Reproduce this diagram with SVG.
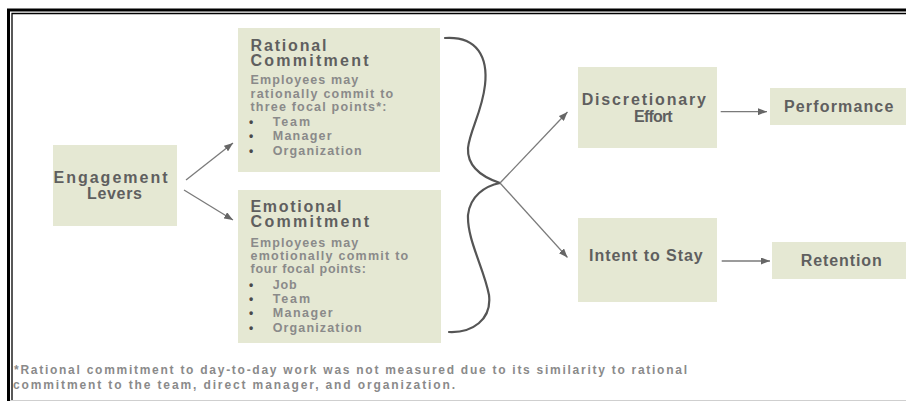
<svg xmlns="http://www.w3.org/2000/svg" width="906" height="401" viewBox="0 0 906 401">
<defs>
<style>
.box{fill:#e5e8d3}
.t{font-family:"Liberation Sans",Arial,sans-serif;font-weight:bold;font-size:16px;fill:#5f5f5f}
.b{font-family:"Liberation Sans",Arial,sans-serif;font-weight:bold;font-size:12.5px;fill:#8a8a8a}
.dot{font-family:"Liberation Sans",Arial,sans-serif;font-weight:bold;font-size:12px;fill:#4a4a4a}
.fn{font-family:"Liberation Sans",Arial,sans-serif;font-weight:bold;font-size:12px;fill:#8a8a8a}
.ar{fill:none;stroke:#7a7a7a;stroke-width:1.3}
.br{fill:none;stroke:#555;stroke-width:2.2;stroke-linecap:round}
</style>
<marker id="ah" markerUnits="userSpaceOnUse" markerWidth="9" markerHeight="7" refX="9" refY="3.5" orient="auto">
<path d="M0,0 L9,3.5 L0,7 z" fill="#666"/>
</marker>
</defs>
<rect width="906" height="401" fill="#fff"/>
<g id="frame" fill="none" stroke="#000">
<path d="M906,10 H8.5 V401" stroke-width="3"/>
<path d="M906,13.5 H12 V401" stroke-width="1.3"/>
<path d="M10,400.5 H906" stroke="#cfcfcf" stroke-width="1"/>
</g>
<g id="engagement">
<rect class="box" x="53" y="145" width="124" height="81"/>
<text class="t" x="53.5" y="182.7" textLength="114" lengthAdjust="spacing">Engagement</text>
<text class="t" x="87" y="198.5" textLength="55" lengthAdjust="spacing">Levers</text>
</g>
<g id="rational">
<rect class="box" x="238" y="28" width="202" height="144"/>
<text class="t" x="250.5" y="51" textLength="76" lengthAdjust="spacing">Rational</text>
<text class="t" x="250.5" y="66" textLength="118" lengthAdjust="spacing">Commitment</text>
<text class="b" x="250.5" y="84" textLength="107.7" lengthAdjust="spacing">Employees may</text>
<text class="b" x="250.5" y="97.5" textLength="142.7" lengthAdjust="spacing">rationally commit to</text>
<text class="b" x="250.5" y="111" textLength="136" lengthAdjust="spacing">three focal points*:</text>
<text class="dot" x="249" y="126">•</text>
<text class="b" x="272.7" y="126" textLength="37.3" lengthAdjust="spacing">Team</text>
<text class="dot" x="249" y="140">•</text>
<text class="b" x="272.7" y="140" textLength="59" lengthAdjust="spacing">Manager</text>
<text class="dot" x="249" y="154.5">•</text>
<text class="b" x="272.7" y="154.5" textLength="89" lengthAdjust="spacing">Organization</text>
</g>
<g id="emotional">
<rect class="box" x="238" y="190" width="203" height="153"/>
<text class="t" x="250.5" y="212.3" textLength="91" lengthAdjust="spacing">Emotional</text>
<text class="t" x="250.5" y="227.3" textLength="118.7" lengthAdjust="spacing">Commitment</text>
<text class="b" x="250.5" y="246.7" textLength="107.7" lengthAdjust="spacing">Employees may</text>
<text class="b" x="250.5" y="260" textLength="157.7" lengthAdjust="spacing">emotionally commit to</text>
<text class="b" x="250.5" y="273.3" textLength="115.3" lengthAdjust="spacing">four focal points:</text>
<text class="dot" x="249" y="289">•</text>
<text class="b" x="272.7" y="289" textLength="24" lengthAdjust="spacing">Job</text>
<text class="dot" x="249" y="302.7">•</text>
<text class="b" x="272.7" y="302.7" textLength="37.3" lengthAdjust="spacing">Team</text>
<text class="dot" x="249" y="317.3">•</text>
<text class="b" x="272.7" y="317.3" textLength="60" lengthAdjust="spacing">Manager</text>
<text class="dot" x="249" y="331.7">•</text>
<text class="b" x="272.7" y="331.7" textLength="89" lengthAdjust="spacing">Organization</text>
</g>
<g id="discretionary">
<rect class="box" x="578" y="67" width="139" height="81"/>
<text class="t" x="581.7" y="105" textLength="124.3" lengthAdjust="spacing">Discretionary</text>
<text class="t" x="634" y="121.7" textLength="38.7" lengthAdjust="spacing">Effort</text>
</g>
<g id="performance">
<rect class="box" x="770" y="88" width="136" height="37"/>
<text class="t" x="784" y="112" textLength="109.3" lengthAdjust="spacing">Performance</text>
</g>
<g id="intent">
<rect class="box" x="578" y="218" width="139" height="84"/>
<text class="t" x="589" y="261.3" textLength="113.7" lengthAdjust="spacing">Intent to Stay</text>
</g>
<g id="retention">
<rect class="box" x="772" y="242" width="134" height="37"/>
<text class="t" x="800.7" y="266" textLength="81" lengthAdjust="spacing">Retention</text>
</g>
<g id="connectors">
<line class="ar" x1="186" y1="180" x2="233" y2="143" marker-end="url(#ah)"/>
<line class="ar" x1="184" y1="190" x2="233" y2="220" marker-end="url(#ah)"/>
<path class="br" d="M445,38 C478,36 488,58 485,85 C482,112 470,130 468,148 C467,168 485,178 500,183"/>
<path class="br" d="M500,183 C485,186 470,196 468,215 C467,240 484,268 489,295 C492,320 472,333 449,332"/>
<line class="ar" x1="500" y1="183" x2="567.5" y2="112" marker-end="url(#ah)"/>
<line class="ar" x1="500" y1="183" x2="567.5" y2="257.5" marker-end="url(#ah)"/>
<line class="ar" x1="720.7" y1="111.7" x2="767" y2="111.7" marker-end="url(#ah)"/>
<line class="ar" x1="721.7" y1="261" x2="770" y2="261" marker-end="url(#ah)"/>
</g>
<g id="footnote">
<text class="fn" x="14" y="373.5" textLength="673" lengthAdjust="spacing">*Rational commitment to day-to-day work was not measured due to its similarity to rational</text>
<text class="fn" x="13" y="388.5" textLength="442" lengthAdjust="spacing">commitment to the team, direct manager, and organization.</text>
</g>
</svg>
